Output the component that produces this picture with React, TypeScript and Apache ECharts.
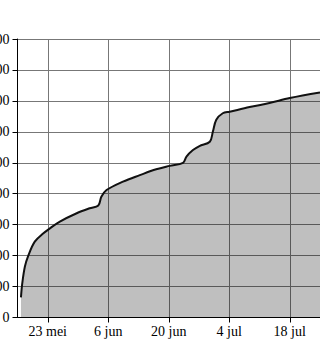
import React, { useEffect, useRef } from "react";
import * as echarts from "echarts";

// day offsets from 16 mei
const days = [0.8, 1.1, 1.7, 2.5, 4.0, 6.0, 7.5, 9.8, 13.7, 16.7, 18.7, 19.4, 20.6, 24.4, 28.3, 32.1, 35.2, 38.3, 39.1, 40.6, 42.1, 44.5, 45.2, 46.0, 47.5, 49.1, 53.7, 58.3, 63, 70];
const values = [65, 110, 164, 200, 245, 272, 288, 310, 337, 353, 362, 390, 412, 439, 460, 479, 490, 500, 520, 541, 554, 568, 600, 639, 660, 665, 680, 693, 709, 727];
const labelDays = [7, 21, 35, 49, 63];
const monthNames = ["jan", "feb", "mrt", "apr", "mei", "jun", "jul", "aug", "sep", "okt", "nov", "dec"];
const startDate = [2020, 4, 16];

export default function App() {
  const ref = useRef<HTMLDivElement>(null);
  useEffect(() => {
    const chart = echarts.init(ref.current!, null, { renderer: "svg" });
    const font = "Liberation Serif";
    const txt = { color: "#000", fontFamily: font, fontSize: 14, fontWeight: "normal" as const };
    chart.setOption({
      animation: false,
      textStyle: { fontFamily: font },
      grid: { left: 17.5, right: 0, top: 39, bottom: 32.5, containLabel: false, outerBoundsMode: "none" },
      xAxis: {
        type: "value",
        min: 0,
        max: 70,
        interval: 7,
        axisLine: { lineStyle: { color: "#000", width: 1 } },
        axisTick: { show: true, customValues: labelDays, length: 5, lineStyle: { color: "#000" } },
        axisLabel: {
          ...txt,
          customValues: labelDays,
          margin: 7,
          formatter: (v: number) => {
            const d = new Date(startDate[0], startDate[1], startDate[2] + v);
            return `${d.getDate()} ${monthNames[d.getMonth()]}`;
          },
        },
        splitLine: { show: true, lineStyle: { color: "#777", width: 1 } },
      },
      yAxis: {
        type: "value",
        min: 0,
        max: 900,
        interval: 100,
        axisLine: { show: true, lineStyle: { color: "#000", width: 1 } },
        axisTick: { show: true, length: 5, lineStyle: { color: "#000" } },
        axisLabel: { ...txt, margin: 8 },
        splitLine: { show: true, lineStyle: { color: "#777", width: 1 } },
      },
      series: [
        {
          type: "line",
          data: days.map((d, i) => [d, values[i]]),
          smooth: 0.35,
          showSymbol: false,
          lineStyle: { color: "#111", width: 2 },
          areaStyle: { color: "rgba(0,0,0,0.25)", opacity: 1 },
        },
      ],
    });
    return () => chart.dispose();
  }, []);
  return <div ref={ref} style={{ position: "absolute", left: 0, top: 0, width: 320, height: 350 }} />;
}
